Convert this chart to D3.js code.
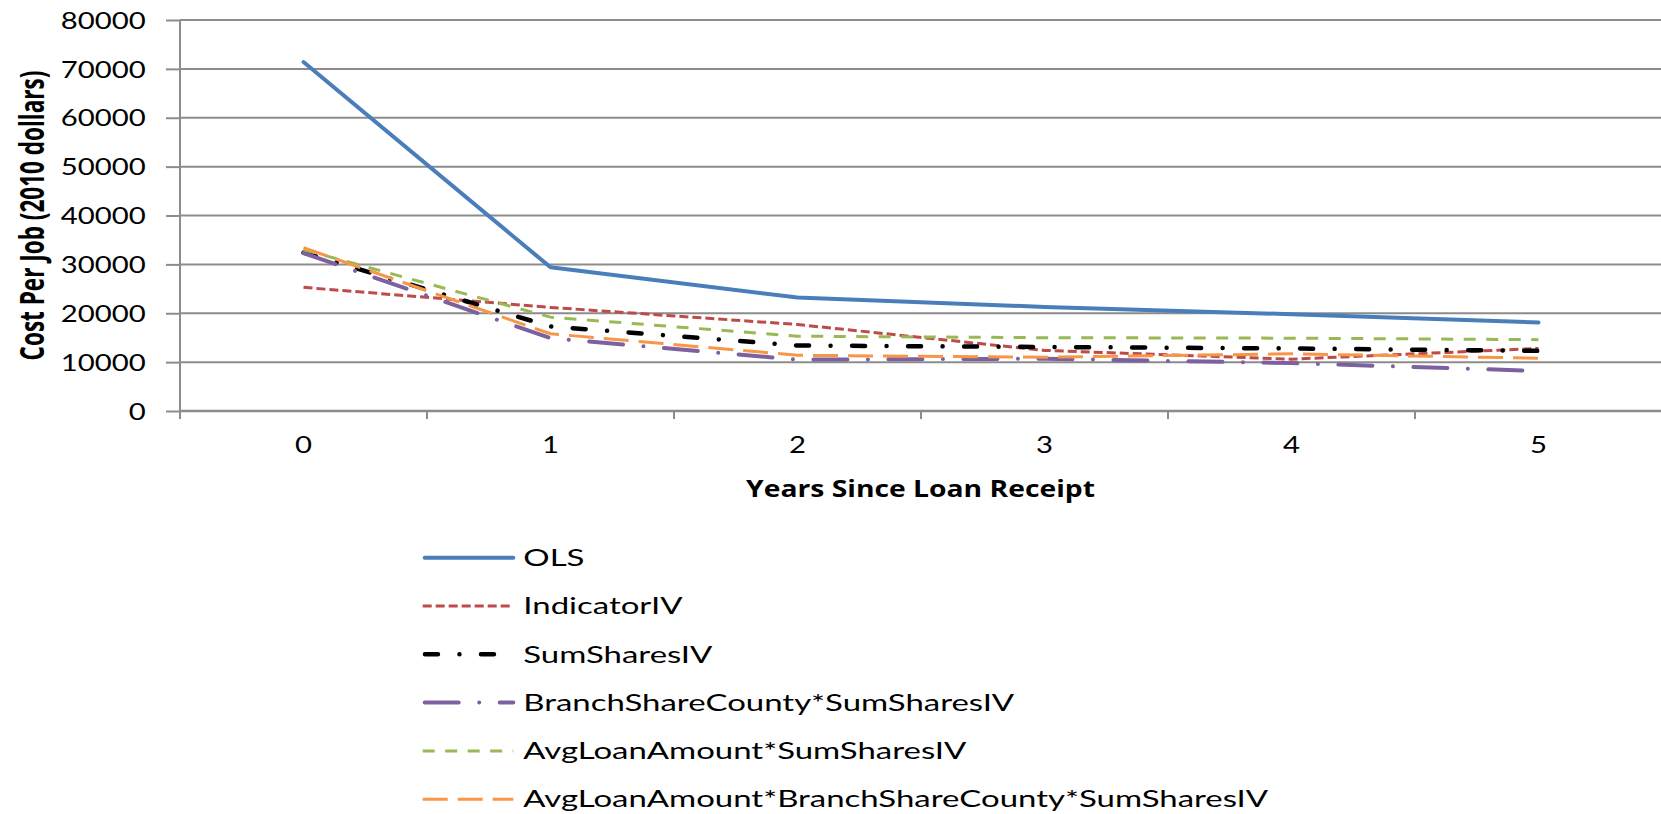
<!DOCTYPE html>
<html>
<head>
<meta charset="utf-8">
<script src="https://cdn.jsdelivr.net/npm/d3@7"></script>
<style>
  html, body { margin: 0; padding: 0; background: #ffffff; }
  svg { display: block; }
</style>
</head>
<body>
<svg id="chart" width="1661" height="814"></svg>
<script>
// Years since the loan was received (x categories)
const years = [0, 1, 2, 3, 4, 5];

// Cost per job, 2010 dollars, one array per estimator
const ols               = [71400, 29400, 23200, 21300, 19800, 18100];
const indicatorIV       = [25300, 21200, 17700, 12400, 10600, 12800];
const sumSharesIV       = [32400, 17300, 13400, 13100, 12800, 12300];
const branchShareIV     = [32300, 14900, 10500, 10700,  9800,  8200];
const avgLoanIV         = [33000, 19200, 15300, 15000, 14900, 14600];
const avgLoanBranchIV   = [33400, 15800, 11400, 11000, 11700, 10800];

const seriesNames = [
  "OLS",
  "IndicatorIV",
  "SumSharesIV",
  "BranchShareCounty*SumSharesIV",
  "AvgLoanAmount*SumSharesIV",
  "AvgLoanAmount*BranchShareCounty*SumSharesIV"
];
const seriesValues = [ols, indicatorIV, sumSharesIV, branchShareIV, avgLoanIV, avgLoanBranchIV];

// y axis tick values
const yTicks = [0, 10000, 20000, 30000, 40000, 50000, 60000, 70000, 80000];

// Line styling per series
const lineStyles = [
  { color: "#4a7ebb", width: 4,   dash: null,                 cap: "round" },
  { color: "#be4b48", width: 3,   dash: "9,4",                cap: "butt"  },
  { color: "#000000", width: 4.5, dash: "13,21.5,0.01,21.5",  cap: "round" },
  { color: "#7d60a0", width: 4,   dash: "34,20.5,0.01,20.5",  cap: "round" },
  { color: "#98b954", width: 3,   dash: "12,10.5",            cap: "butt"  },
  { color: "#f79646", width: 3,   dash: "25,10",              cap: "butt"  }
];

const series = seriesNames.map((name, i) => ({ name, values: seriesValues[i], style: lineStyles[i] }));

const FONT = "Lato, 'Open Sans', 'Liberation Sans', sans-serif";
const TITLE_FONT = "'Open Sans', Lato, 'Liberation Sans', sans-serif";
const CAP = 0.7165;              // cap / figure height as a share of the font size
const GRID = "#8c8c8c";

const svg = d3.select("#chart");

const plotLeft = 180, plotRight = 1662, plotTop = 20, plotBottom = 411;

const x = d3.scaleBand().domain(years).range([plotLeft, plotRight]).padding(0);
const cx = d => x(d) + x.bandwidth() / 2;
const y = d3.scaleLinear().domain([0, 80000]).range([plotBottom, plotTop]);

// measure a string and return the horizontal stretch that brings it to a given width
function stretchFor(str, family, size, weight, target) {
  const t = svg.append("text")
    .attr("font-family", family).attr("font-size", size).attr("font-weight", weight)
    .text(str);
  const w = t.node().getComputedTextLength();
  t.remove();
  return target / w;
}

// horizontal gridlines
svg.append("g").selectAll("line.grid")
  .data(yTicks.filter(v => v > 0))
  .join("line")
  .attr("x1", plotLeft).attr("x2", 1661)
  .attr("y1", d => y(d)).attr("y2", d => y(d))
  .attr("stroke", GRID).attr("stroke-width", 2);

// y axis: ticks and labels
const tickFont = 23;
const tickCap = tickFont * CAP;
const yTickStretch = stretchFor("80000", FONT, tickFont, 400, 85);

const gY = svg.append("g").attr("transform", `translate(${plotLeft},0)`)
  .call(d3.axisLeft(y).tickValues(yTicks).tickSize(14).tickSizeOuter(0).tickFormat(d3.format("d")));
gY.select(".domain").remove();
gY.selectAll(".tick line").attr("stroke", GRID).attr("stroke-width", 2);
gY.selectAll(".tick text")
  .attr("x", null).attr("dy", null)
  .attr("font-family", FONT).attr("font-size", tickFont).attr("fill", "#000")
  .attr("text-anchor", "end")
  .attr("transform", `translate(-34.3,${tickCap / 2}) scale(${yTickStretch},1)`);

// y axis line
svg.append("line")
  .attr("x1", plotLeft).attr("x2", plotLeft)
  .attr("y1", y(80000)).attr("y2", plotBottom + 8)
  .attr("stroke", GRID).attr("stroke-width", 2);

// x axis baseline
svg.append("line")
  .attr("x1", plotLeft).attr("x2", 1661)
  .attr("y1", y(0)).attr("y2", y(0))
  .attr("stroke", GRID).attr("stroke-width", 2.5);

// x axis category boundary ticks
svg.append("g").selectAll("line")
  .data(years.slice(1))
  .join("line")
  .attr("x1", d => x(d)).attr("x2", d => x(d))
  .attr("y1", y(0)).attr("y2", y(0) + 8)
  .attr("stroke", GRID).attr("stroke-width", 2);

// x axis labels
const gX = svg.append("g").attr("transform", `translate(0,${plotBottom})`)
  .call(d3.axisBottom(x).tickSize(0).tickSizeOuter(0));
gX.select(".domain").remove();
gX.selectAll(".tick text")
  .attr("y", null).attr("dy", null)
  .attr("font-family", FONT).attr("font-size", tickFont).attr("fill", "#000")
  .attr("text-anchor", "middle")
  .attr("transform", `translate(0,${453.3 - plotBottom}) scale(${yTickStretch},1)`);

// x axis title
const titleFont = 23;
const xTitle = "Years Since Loan Receipt";
const xTitleStretch = stretchFor(xTitle, TITLE_FONT, titleFont, 700, 349);
svg.append("text")
  .attr("font-family", TITLE_FONT).attr("font-size", titleFont).attr("font-weight", 700)
  .attr("text-anchor", "middle").attr("fill", "#000")
  .attr("transform", `translate(${(plotLeft + 1661) / 2},496.5) scale(${xTitleStretch},1)`)
  .text(xTitle);

// y axis title, rotated
const yTitle = "Cost Per Job (2010 dollars)";
const yTitleFont = 22;
const yAlong = stretchFor(yTitle, TITLE_FONT, yTitleFont, 700, 290);
const yAcross = 24 / (yTitleFont * CAP);
svg.append("text")
  .attr("font-family", TITLE_FONT).attr("font-size", yTitleFont).attr("font-weight", 700)
  .attr("text-anchor", "middle").attr("fill", "#000")
  .attr("transform", `translate(43.5,${(plotTop + plotBottom) / 2}) rotate(-90) scale(${yAlong},${yAcross})`)
  .text(yTitle);

// series lines
const line = d3.line()
  .x((d, i) => cx(years[i]))
  .y(d => y(d));

svg.append("g").selectAll("path.series")
  .data(series)
  .join("path")
  .attr("class", "series")
  .attr("d", d => line(d.values))
  .attr("fill", "none")
  .attr("stroke", d => d.style.color)
  .attr("stroke-width", d => d.style.width)
  .attr("stroke-dasharray", d => d.style.dash)
  .attr("stroke-linecap", d => d.style.cap)
  .attr("stroke-linejoin", "round");

// legend
const legendFont = 23;
const legendStretch = stretchFor(seriesNames[5], FONT, legendFont, 400, 745);
const legendTop = 557.7, legendStep = 48.3;
const legend = svg.append("g").selectAll("g")
  .data(series)
  .join("g")
  .attr("transform", (d, i) => `translate(0,${legendTop + i * legendStep})`);

legend.append("line")
  .attr("x1", d => 422.7 + (d.style.cap === "round" ? d.style.width / 2 : 0))
  .attr("x2", 513.3)
  .attr("y1", 0).attr("y2", 0)
  .attr("stroke", d => d.style.color)
  .attr("stroke-width", d => d.style.width)
  .attr("stroke-dasharray", d => d.style.dash)
  .attr("stroke-linecap", d => d.style.cap);

legend.append("text")
  .attr("font-family", FONT).attr("font-size", legendFont).attr("fill", "#000")
  .attr("transform", `translate(523.3,${legendFont * CAP / 2}) scale(${legendStretch},1)`)
  .text(d => d.name);
</script>
</body>
</html>
